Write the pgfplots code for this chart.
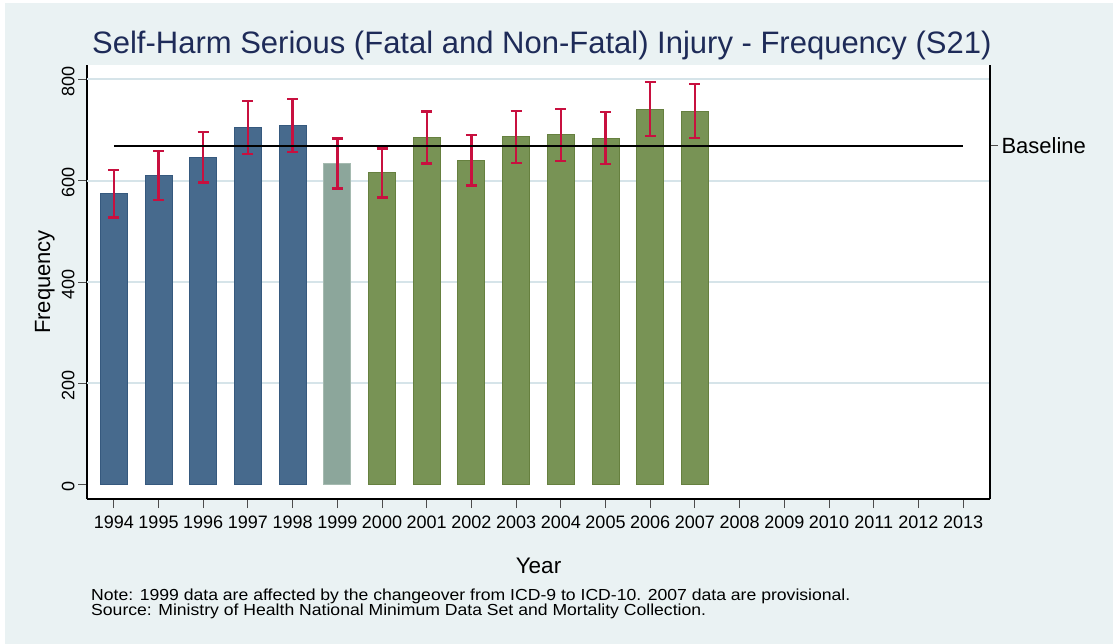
\documentclass[border=0pt]{standalone}
\usepackage{fontspec}
\setmainfont{Liberation Sans}
\usepackage{pgfplots}
\pgfplotsset{compat=1.18}
\definecolor{bgc}{HTML}{EAF2F3}
\definecolor{gridc}{HTML}{D6E4E9}
\definecolor{bluefill}{HTML}{476A8D}
\definecolor{blueedge}{HTML}{36597E}
\definecolor{grayfill}{HTML}{8CA69B}
\definecolor{grayedge}{HTML}{A5BAB0}
\definecolor{greenfill}{HTML}{789355}
\definecolor{greenedge}{HTML}{66803F}
\definecolor{errc}{HTML}{C8103F}
\definecolor{titlec}{HTML}{1E2B58}
\begin{document}
\begin{tikzpicture}[x=1pt,y=1pt]
\fill[white] (0,0) rectangle (1113,-644);
\fill[bgc] (5,-3) rectangle (1113,-644);
\useasboundingbox (0,0) rectangle (1113,-644);
\fill[white] (87,-65) rectangle (990,-499);
\pgfplotsset{
  common/.style={
    at={(87pt,-499pt)}, anchor=south west,
    width=903pt, height=434pt, scale only axis,
    xmin=1993.4, xmax=2013.6, ymin=-28, ymax=828,
    /pgf/number format/assume math mode=true,
    /pgf/number format/1000 sep={},
    tick align=outside,
    axis line style={black, line width=1.2pt},
    tick style={black!70, line width=1pt},
  },
  errs/.style={error bars/.cd, y dir=both, y explicit,
    error bar style={draw=errc, line width=2.4pt},
    error mark options={draw=errc, rotate=90, mark size=5.5pt, line width=2.4pt}},
}
\begin{axis}[common,
  axis x line*=bottom, axis y line*=left,
  xtick={1994,...,2013}, ytick={0,200,...,800},
  major tick length=9pt,
  xticklabel style={font=\fontsize{18}{18}\selectfont, yshift=-4pt},
  yticklabel style={rotate=90, anchor=south, xshift=-2pt, font=\fontsize{18}{18}\selectfont},
  extra y ticks={200,400,600,800}, extra y tick labels={},
  extra y tick style={grid=major, major tick length=0pt, grid style={gridc, line width=2pt}},
]
\addplot[ybar, bar width=27pt, bar shift=0pt, fill=bluefill, draw=blueedge, line width=1pt, errs]
  coordinates {(1994,574) +- (0,47.0) (1995,610) +- (0,48.4) (1996,646) +- (0,49.8) (1997,705) +- (0,52.0) (1998,709) +- (0,52.2)};
\addplot[ybar, bar width=27pt, bar shift=0pt, fill=grayfill, draw=grayedge, line width=1pt, errs]
  coordinates {(1999,634) +- (0,49.4)};
\addplot[ybar, bar width=27pt, bar shift=0pt, fill=greenfill, draw=greenedge, line width=1pt, errs]
  coordinates {(2000,615) +- (0,48.6) (2001,685) +- (0,51.3) (2002,640) +- (0,49.6) (2003,686) +- (0,51.3) (2004,690) +- (0,51.5) (2005,684) +- (0,51.3) (2006,741) +- (0,53.4) (2007,737) +- (0,53.2)};
\addplot[black, line width=2.2pt, mark=none] coordinates {(1994,669) (2013,669)};
\end{axis}
\begin{axis}[common,
  axis x line=none, axis y line*=right,
  ytick={669}, yticklabels={Baseline},
  major tick length=8pt,
  yticklabel style={font=\fontsize{22}{22}\selectfont},
]
\end{axis}
\node[anchor=base west, text=titlec, inner sep=0pt, font=\fontsize{31}{31}\selectfont] at (92,-53.3) {Self-Harm Serious (Fatal and Non-Fatal) Injury - Frequency (S21)};
\node[anchor=base, inner sep=0pt, font=\fontsize{22.5}{22.5}\selectfont] at (538.5,-573.3) {Year};
\node[anchor=base, rotate=90, inner sep=0pt, font=\fontsize{22}{22}\selectfont] at (50,-282) {Frequency};
\node[anchor=base west, inner sep=0pt, font=\fontsize{16}{16}\selectfont] at (91,-600.7) {\scalebox{1.1}[1]{Note: 1999 data are affected by the changeover from ICD-9 to ICD-10. 2007 data are provisional.}};
\node[anchor=base west, inner sep=0pt, font=\fontsize{16}{16}\selectfont] at (91,-615) {\scalebox{1.1}[1]{Source: Ministry of Health National Minimum Data Set and Mortality Collection.}};
\end{tikzpicture}
\end{document}
